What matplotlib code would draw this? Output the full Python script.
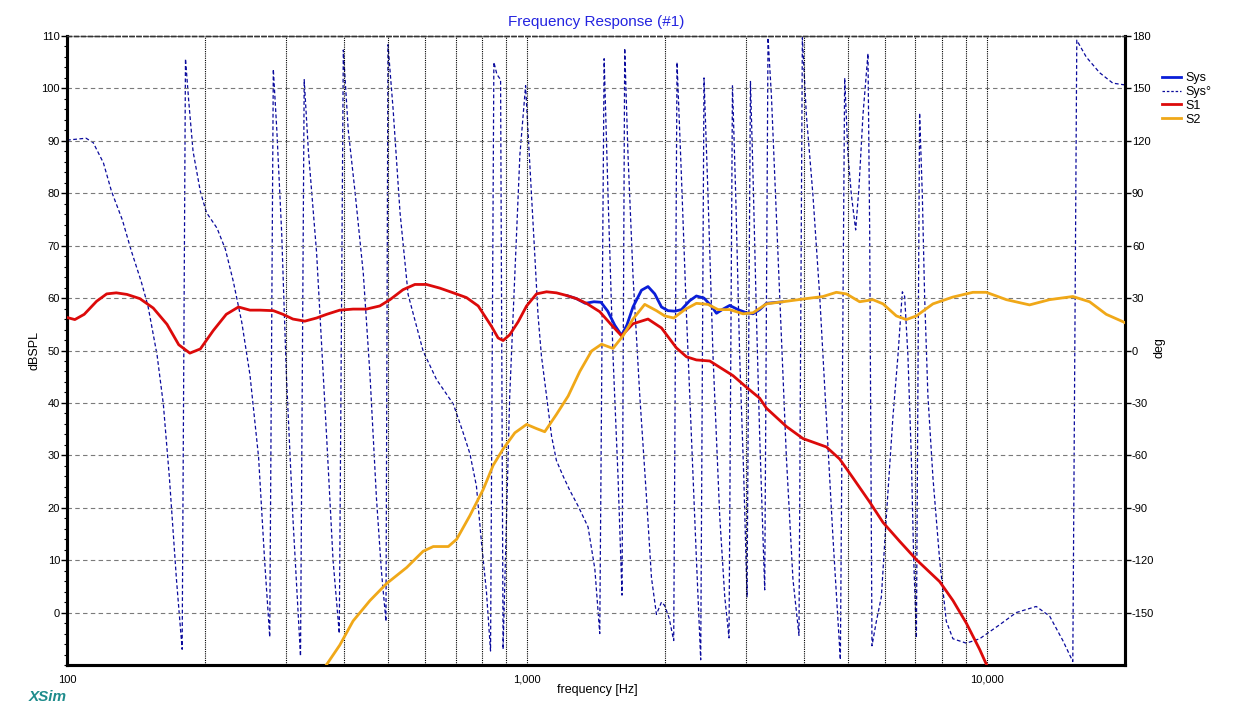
import matplotlib
matplotlib.use("Agg")
import matplotlib.pyplot as plt
from matplotlib.ticker import FixedLocator, MultipleLocator, LogLocator, NullFormatter
from matplotlib.lines import Line2D

plt.rcParams['font.family'] = ['Liberation Sans', 'DejaVu Sans']
plt.rcParams['axes.unicode_minus'] = False

# ---------------- data ----------------
s1_f = [100, 104, 109, 116, 122, 128, 135, 144, 154, 165, 175, 185, 195, 208, 222, 236, 250, 263, 281, 295,
        310, 329, 349, 367, 392, 419, 448, 479, 504, 538, 571, 605, 647, 692, 739, 784, 838, 866, 888, 918,
        958, 999, 1050, 1104, 1160, 1220, 1282, 1348, 1441, 1520, 1607, 1702, 1835, 1963, 2115, 2225, 2338, 2500, 2628, 2809,
        3003, 3210, 3320, 3669, 3987, 4483, 4791, 5121, 5568, 5952, 6470, 7036, 7906, 8450, 9034, 9656, 10016, 10400]
s1_db = [56.3, 55.9, 56.9, 59.4, 60.8, 61.0, 60.7, 59.9, 58.1, 55.0, 51.1, 49.5, 50.3, 53.8, 56.9, 58.3, 57.7, 57.7, 57.6, 56.9,
         56.0, 55.6, 56.2, 56.9, 57.7, 57.9, 57.9, 58.5, 59.7, 61.6, 62.6, 62.6, 61.9, 61.0, 60.1, 58.5, 54.6, 52.4, 51.9, 53.0,
         55.5, 58.5, 60.8, 61.2, 61.0, 60.5, 59.9, 59.0, 57.4, 55.1, 52.8, 55.1, 56.0, 54.3, 50.5, 48.8, 48.2, 48.0, 46.8, 45.2,
         43.0, 40.9, 39.0, 35.5, 33.2, 31.6, 29.3, 25.7, 21.1, 17.2, 13.6, 10.1, 5.9, 2.3, -2.0, -7.0, -10.1, -13.0]

s2_f = [360, 392, 419, 456, 495, 548, 595, 626, 675, 704, 752, 804, 845, 888, 942, 999, 1050, 1094, 1160, 1230,
        1304, 1383, 1454, 1540, 1619, 1702, 1805, 1914, 1995, 2087, 2206, 2338, 2478, 2606, 2763, 2953, 3105, 3320, 3607, 4055,
        4407, 4713, 4955, 5296, 5659, 5952, 6364, 6691, 7036, 7645, 8450, 9338, 9985, 11040, 12400, 13710, 15400, 16750, 18210, 19790,
        20000]
s2_db = [-11.0, -6.2, -1.6, 2.3, 5.5, 8.6, 11.7, 12.6, 12.6, 14.0, 18.5, 23.5, 28.1, 31.2, 34.3, 35.9, 35.1, 34.5, 37.8, 41.3,
         46.0, 49.9, 51.2, 50.4, 52.8, 56.0, 58.8, 57.6, 56.6, 56.2, 57.8, 59.0, 58.8, 57.8, 57.8, 57.0, 57.2, 58.9, 59.3, 59.9,
         60.3, 61.1, 60.8, 59.3, 59.7, 58.9, 56.6, 55.9, 56.6, 58.9, 60.2, 61.1, 61.1, 59.7, 58.7, 59.7, 60.3, 59.3, 56.9, 55.5,
         55.3]

sys_f = [1220, 1282, 1340, 1400, 1450, 1500, 1554, 1607, 1650, 1702, 1776, 1835, 1898, 1963, 2028, 2097, 2169, 2261, 2338, 2429,
         2530, 2585, 2672, 2763, 2880, 3003, 3105, 3210, 3320, 3607]
sys_db = [60.5, 59.9, 59.0, 59.3, 59.2, 57.5, 54.8, 52.9, 54.8, 58.3, 61.5, 62.2, 60.8, 58.3, 57.6, 57.5, 57.8, 59.5, 60.4, 60.0,
          58.3, 57.1, 57.9, 58.6, 57.8, 57.2, 57.0, 57.8, 59.0, 59.3]

ph_f = [100, 110, 114, 120, 125, 132, 138, 145, 150, 157, 162, 167, 173, 178,
        181, 184, 188, 195, 201, 212, 221, 230, 240, 250, 261, 269, 276,
        281, 286, 293, 300, 310, 322,
        328, 335, 349, 367, 379, 391,
        399, 409, 423, 441, 456, 471, 483, 494,
        499, 512, 530, 552, 595, 636, 692, 727, 752, 777, 797, 817, 834,
        848, 861, 877, 888, 918, 966, 994, 1007, 1024, 1041, 1058, 1076, 1104, 1132, 1160, 1200, 1240, 1293, 1359, 1406, 1441,
        1473, 1502, 1540, 1579, 1611,
        1633, 1660, 1702, 1761, 1821, 1867, 1914, 1963, 1995, 2039, 2087,
        2122, 2169, 2225, 2280, 2338, 2389,
        2429, 2478, 2541, 2628, 2695, 2753,
        2801, 2847, 2904, 2964, 3013,
        3065, 3105, 3158, 3210, 3264, 3292,
        3347, 3404, 3490, 3579, 3669, 3792, 3908,
        3975, 4055, 4191, 4336, 4483, 4633, 4808,
        4913, 4995, 5081, 5191, 5278, 5385, 5521, 5568, 5633, 5758, 5904, 6053, 6256, 6415, 6558, 6634, 6744, 6860, 6939, 7036,
        7150, 7248, 7332, 7454, 7645, 7906, 8173, 8450, 9034, 9656, 10670, 11600, 12820, 13710, 14650, 15400,
        15710, 16470, 17610, 18820, 20000]
ph_deg = [120.4, 121.5, 119, 107.4, 91, 74.6, 57, 39.5, 25.5, -2.6, -30.7, -72.8, -131, -171,
          167, 142.5, 114, 91, 79, 70, 58, 39.5, 16, -14, -61, -120, -164,
          161, 126, 67.5, -14, -96, -175,
          155, 114, 56, -49.5, -120, -162,
          172, 126, 91, 44, -14, -84.5, -126.7, -155,
          175, 138, 79, 32, -0.3, -16.5, -30.6, -47, -59, -77.5, -110, -138, -172,
          165, 158, 155, -171, -26, 112, 151.6, 123.5, 89, 54.4, 20, -3, -26, -49, -63, -72, -80, -89, -101, -125, -162,
          167, 89, -3, -72, -140,
          173, 112, 43, -26, -84, -130, -151, -144, -146, -153, -166,
          165, 100, 20, -49, -119, -177,
          156, 89, -3, -95, -141, -164.5,
          152, 89, -3, -72, -141,
          154, 100, 20, -49, -107, -137,
          179, 146, 77, 8, -61, -131, -163,
          179, 135, 89, 31, -38, -107, -177,
          156, 112, 89, 69, 93.5, 135, 170, 69, -169, -155, -141, -95, -38, -3, 33.6, 31, -3, -61, -118, -164.5,
          136, 89, 31, -26, -73, -120, -155, -165, -167.5, -165, -157, -150, -146.5, -152, -166, -178,
          177.6, 168, 159, 153, 152]

x_ticks = [100, 1000, 10000]
x_ticklabels = ["100", "1,000", "10,000"]
db_ticks = list(range(0, 111, 10))
deg_ticks = list(range(-150, 181, 30))

# ---------------- colours ----------------
C_SYS = '#0A1ED8'
C_PH = '#0A0A9C'
C_S1 = '#DC0A0A'
C_S2 = '#F0A818'

W, H = 1243, 721
fig = plt.figure(figsize=(W / 100, H / 100), dpi=100)
L, R, T, B = 67, 1125, 36, 665
ax = fig.add_axes([L / W, 1 - B / H, (R - L) / W, (B - T) / H])
ax2 = ax.twinx()
ax.set_zorder(ax2.get_zorder() + 1)
ax.patch.set_visible(False)

ax.set_xscale('log')
ax.set_xlim(100, 20000)
ax.set_ylim(-10, 110)
ax2.set_ylim(-180, 180)

# phase on the twin axis
ax2.plot(ph_f, ph_deg, color=C_PH, lw=0.9, linestyle=(0, (3, 2)))

# magnitudes
ax.plot(sys_f, sys_db, color=C_SYS, lw=2.0, solid_capstyle='round', zorder=3)
ax.plot(s1_f, s1_db, color=C_S1, lw=2.0, zorder=4, clip_on=True)
ax.plot(s2_f, s2_db, color=C_S2, lw=2.0, zorder=5, clip_on=True)

# grid
ax.xaxis.set_major_locator(FixedLocator(x_ticks))
ax.set_xticklabels(x_ticklabels)
ax.xaxis.set_minor_locator(LogLocator(base=10, subs=[2, 3, 4, 5, 6, 7, 8, 9]))
ax.xaxis.set_minor_formatter(NullFormatter())
ax.grid(True, which='both', axis='x', linestyle=(0, (1, 1)), color='black', lw=0.8)
ax.yaxis.set_major_locator(FixedLocator(db_ticks))
ax.yaxis.set_minor_locator(MultipleLocator(2))
ax.grid(True, which='major', axis='y', linestyle=(0, (4, 3)), color='#7a7a7a', lw=0.8)
ax.set_axisbelow(True)

ax2.yaxis.set_major_locator(FixedLocator(deg_ticks))

ax.tick_params(axis='y', which='major', direction='out', length=4, width=1, labelsize=8, pad=1)
ax.tick_params(axis='y', which='minor', direction='out', length=2, width=0.8)
ax.tick_params(axis='x', which='major', direction='out', length=0, labelsize=8, pad=7)
ax.tick_params(axis='x', which='minor', length=0)
ax2.tick_params(axis='y', which='major', direction='out', length=4, width=1, labelsize=8, pad=1)

for a in (ax, ax2):
    for s in ('left', 'right', 'bottom'):
        a.spines[s].set_linewidth(2.2)
        a.spines[s].set_color('black')
    a.spines['top'].set_linestyle((0, (3, 2)))
    a.spines['top'].set_linewidth(1.0)
    a.spines['top'].set_color('#333333')

# texts
fig.text(596 / W, 1 - 22 / H, "Frequency Response (#1)", ha='center', va='center',
         fontsize=11, color='#2424E0')
fig.text(35 / W, 1 - 350 / H, "dBSPL", rotation=90, ha='center', va='center', fontsize=9)
fig.text(1160 / W, 1 - 348 / H, "deg", rotation=90, ha='center', va='center', fontsize=9)
fig.text(597 / W, 1 - 690 / H, "frequency [Hz]", ha='center', va='center', fontsize=9)
fig.text(29 / W, 1 - 697 / H, "XSim", ha='left', va='center', fontsize=11,
         fontweight='bold', fontstyle='italic', color='#1E8C8C')

handles = [Line2D([], [], color=C_SYS, lw=2.0),
           Line2D([], [], color=C_PH, lw=0.9, linestyle=(0, (2, 1.5))),
           Line2D([], [], color=C_S1, lw=2.0),
           Line2D([], [], color=C_S2, lw=2.0)]
fig.legend(handles, ["Sys", "Sys°", "S1", "S2"], loc='upper left',
           bbox_to_anchor=(1162 / W, 1 - 72 / H), frameon=False, fontsize=9,
           handlelength=1.5, handletextpad=0.4, labelspacing=0.15, borderpad=0, borderaxespad=0)

fig.savefig("out.png", dpi=100)
